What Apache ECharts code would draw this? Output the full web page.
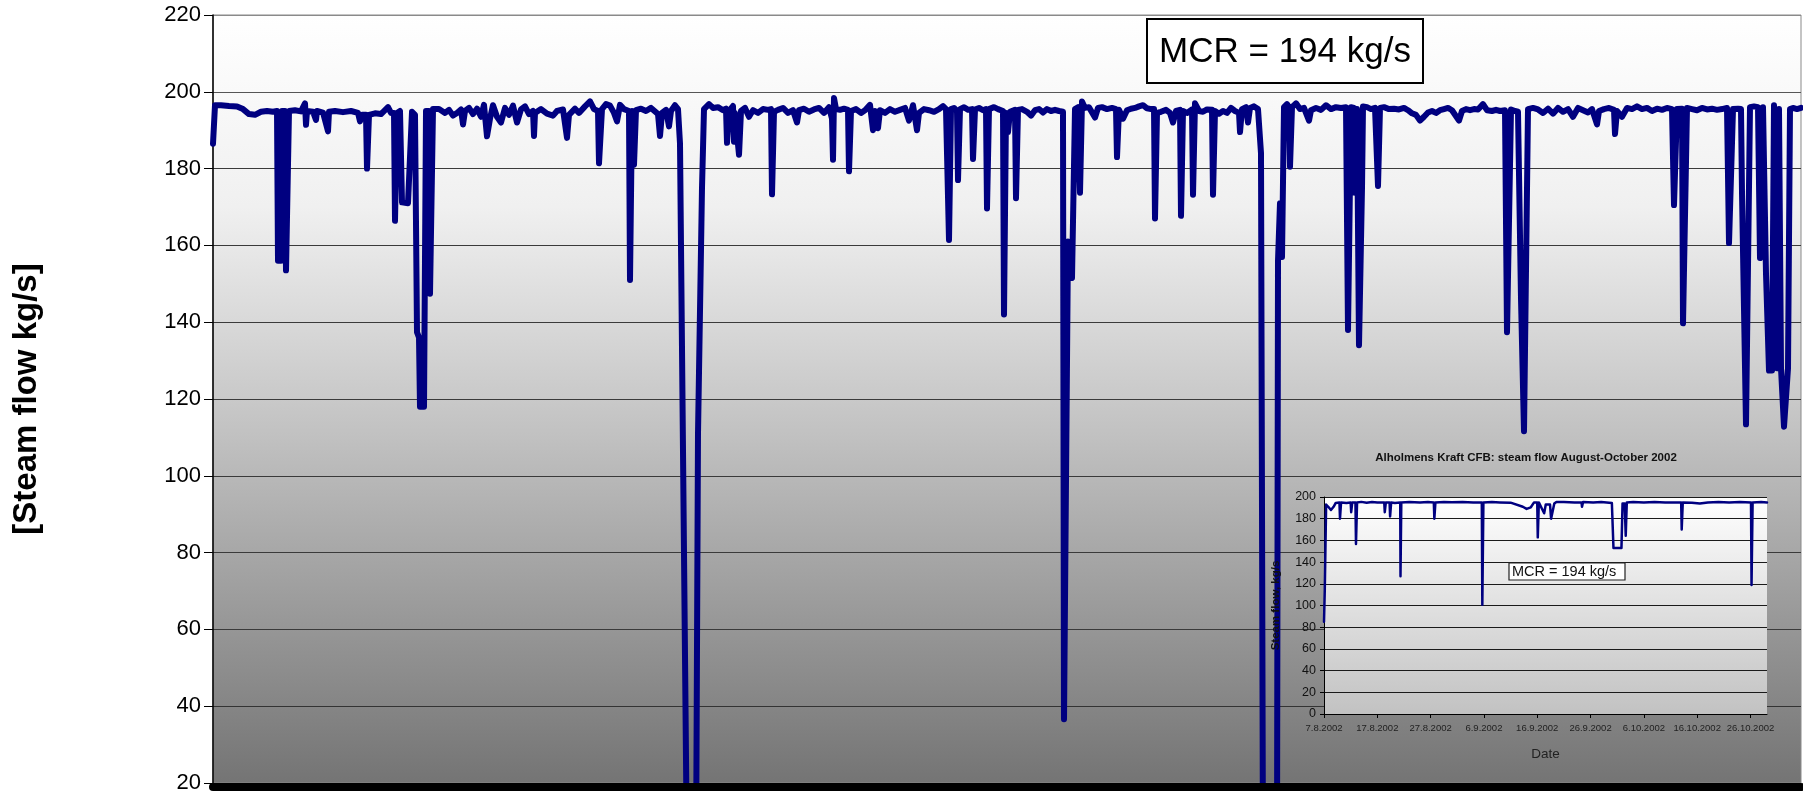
<!DOCTYPE html>
<html>
<head>
<meta charset="utf-8">
<script src="https://cdn.jsdelivr.net/npm/echarts@6/dist/echarts.min.js"></script>
<style>
html,body{margin:0;padding:0;background:#fff;}
#chart{width:1803px;height:795px;}
</style>
</head>
<body>
<div id="chart"></div>
<script>
// ---- Main chart data (time in hours from start of record, steam flow kg/s) ----
const mainHours = [
0,2,8,16,24,30,36,42,48,54,60,64,65,68,69,72,73,75,76,82,88,92,93,94,100,103,104,110,115,116,122,130,138,145,147,149,153,154,155,156,162,168,175,178,181,182,183,184,187,189,195,197,199,202,204,206,207,211,213,216,217,218,220,226,232,236,240,244,248,250,252,256,260,264,268,271,274,277,280,284,288,292,296,300,304,308,312,316,320,321,322,328,334,340,344,350,354,356,362,366,372,377,381,385,386,387,
389,393,397,401,404,407,411,416,417,418,419,421,422,423,428,433,438,445,447,449,453,456,458,462,465,467,469,474,483,485,489,491,496,500,505,510,513,514,515,516,520,521,522,526,527,528,532,536,540,545,550,555,558,559,560,561,565,570,575,580,584,586,591,596,601,606,611,616,619,620,621,623,627,631,635,636,637,638,643,648,652,657,660,662,665,667,672,677,682,687,692,696,700,704,706,711,716,721,726,730,733,735,736,737,738,741,744,745,746,747,751,755,759,760,761,762,766,770,773,774,775,776,781,785,
787,790,791,792,793,795,797,802,803,804,805,809,814,818,822,826,830,834,838,842,846,850,851,853,855,856,859,860,862,865,867,868,869,872,876,882,885,889,894,899,903,904,905,906,910,914,918,922,926,930,934,938,941,942,943,944,948,953,957,960,963,967,968,969,970,974,979,980,981,982,986,990,994,999,1000,1001,1002,1006,1010,1014,1018,1022,1026,1027,1029,1033,1035,1037,1041,1045,1048,1050,1064,1065,1067,1069,1071,1074,1076,1077,1078,1079,1083,1087,1091,1096,1098,1103,1108,1113,1118,1123,1128,1133,1135,1136,1138,1141,1142,1144,1146,1147,1149,1150,1154,1158,1162,1165,1166,1167,1171,1176,1181,1186,
1187,1191,1195,1199,1203,1207,1211,1215,1219,1223,1227,1231,1235,1239,1246,1249,1253,1257,1261,1265,1270,1274,1279,1283,1287,1292,1294,1296,1298,1302,1305,1307,1308,1311,1313,1315,1320,1325,1330,1335,1340,1345,1350,1355,1360,1365,1370,1375,1379,1384,1386,1391,1396,1401,1402,1403,1404,1409,1414,1419,1424,1429,1434,1439,1444,1449,1454,1459,1461,1462,1464,1469,1470,1472,1474,1479,1484,1489,1494,1499,1504,1509,1514,1516,1518,1520,1525,1528,1529,1531,1533,1535,1537,1541,1545,1547,1549,1550,1552,1553,1556,1559,1561,1563,1564,1566,1568,1571,1573,1575,1577,1580,1584,1588
];
const mainFlow = [
186.5,196.5,196.5,196.3,196.2,195.5,194.2,194.0,194.8,195.0,194.8,195.0,156,156,195,195,153.5,153.5,195,195.2,194.9,197,191.4,195,194.8,192.7,195,194.6,189.7,194.8,195,194.7,195,194.5,192.3,194,194,180,180,194,194.4,194.2,196,194.5,194.5,166.4,166.4,194.5,195,171.2,171,171,194.8,194,137.4,136,118,118,195,195,147.4,147.4,195.5,195.5,194.5,195.3,193.8,194.5,195.4,191.5,195,195.8,194.2,195.6,193.5,196.6,188.4,193,196.5,193.5,192,195.8,194,196.4,192,195.4,196.2,194.2,195,188.5,194.5,195.5,194.3,193.8,195,195.4,188,194,195.6,194.5,196.2,197.5,195.5,195,181.4,181.4,
195.5,196.8,196.4,194.5,192.3,196.6,195.5,195,151,151,195,181,181,195.2,195.6,195,195.8,194.2,188.5,194.5,195.3,191,195,196.5,195.5,186.5,186,0,0,111,175,195.5,196.8,195.8,196,195.2,195.6,186.7,187,195,196.3,187,194.5,183.6,183.6,195,195.8,193.5,195.2,194.5,195.5,195.3,195.5,173.3,173.3,194.8,195.3,195.8,194.5,195.2,192,195.2,195.6,194.8,195.4,195.8,194.5,196,193,182.3,198.4,195.5,195.3,195.6,195.3,179.3,179.3,195,195.5,194.5,195.2,196.6,190,195,190.5,195.2,194.5,195.5,194.8,195.3,195.8,192.5,196.5,190,194.5,195.5,195.2,194.8,195.5,196.3,195.5,195,161.4,161.4,195.5,195.8,195,177,177,195.5,196,195.3,195.5,182.5,182.5,195.4,195.8,195.2,195.5,169.6,169.6,195.5,196,195.5,
195.5,195,142,142,194.5,189.5,194.8,195.3,172.3,172.3,195.3,195.5,194.8,193.8,195.2,195.5,194.6,195.5,195,195.3,195,194.8,36.6,36.6,161,160,151.5,151.5,195.5,196,173.7,173.7,197.5,195.8,196,193.3,195.8,196,195.5,195.8,195.5,183,183,195.3,193,195.2,195.6,195.8,196.2,196.5,195.7,195.5,195.5,167,167,194.5,194.8,195.3,194.5,192,195,195.3,167.7,167.7,195,194.5,195.4,173.2,173.2,197,195,194.8,195.4,195.3,173.2,173.2,195,194.3,195,194.5,195.8,195,194.5,189.5,195.5,196,192,195.8,196.2,195.5,184,0,0,156,171,157,196,196.8,196,180.5,180.5,196,197,195.5,195.8,192.5,195.2,195.8,195.3,196.5,195.5,196,195.8,196,138,138,196,195.8,173.7,195.5,134,134,175,196.2,196,195.5,195.8,175.5,175.5,195.8,196,195.5,195.6,195.4,
195.6,195.8,195.2,194.4,194,192.5,193.5,194.6,195,194.5,195.2,195.5,195.8,195.2,192.5,195,195.5,195.2,195.5,195.4,196.8,195.2,195,195.3,195,195.2,137.4,137.4,195.4,195,194.8,195,146.2,111.6,111.6,195.5,195.8,195.4,194.5,195.6,194.3,195.8,194.8,195.5,193.5,195.8,195.2,194.6,195.5,191.5,195,195.5,195.8,195.3,189,189,195,193.5,195.8,195.5,196.2,195.5,195.8,195,195.6,195.3,195.8,195.5,170.5,170.5,195.5,195.6,139.7,139.7,195.8,195.5,195.2,195.8,195.4,195.6,195.3,195.5,195.8,160.6,160.6,195.5,195.6,195.5,173.7,173.7,113.4,113.4,196,196.2,196,156.7,156.7,196,196.3,152.6,127.4,127.4,196.5,196,128,195.5,128,112.8,112.8,128,195.5,195.8,195.5,195.8
];
const mainYTicks = {min: 20, max: 220, step: 20};

// ---- Inset chart data (days after 7.8.2002, steam flow kg/s) ----
const insetDays = [0,0.15,0.4,0.8,1.3,1.8,2.2,2.9,3.0,3.2,4.2,5.0,5.1,5.3,5.9,6.0,6.2,7.0,8.0,9.0,10.0,11.3,11.4,11.6,12.3,12.4,12.6,13.3,14.3,14.35,14.5,16,18,19.5,20.6,20.7,20.9,22.5,24,26,28,29.6,29.7,29.9,31.5,33,35,37.3,38,38.8,39.4,40.0,40.1,40.3,41,41.3,41.6,42.4,42.6,42.8,43.2,43.6,45,47,48.3,48.4,48.6,50.5,52,54.0,54.3,55.8,56.0,56.4,56.6,56.8,58,60,62,64,67.0,67.1,67.3,69,70.5,72,74,76,78,80.1,80.2,80.4,82,83.1];
const insetFlow = [85,115,193,191,188,191,194.5,195,180,195,194.5,195,186,195,195,156.6,195,195.5,194.8,195.3,195,195,186,195,195,182,195,194.5,195,127,195,195.5,195,195.3,195,180,195,195.5,195.2,195.5,195,195,100.8,195,195.3,195,194.8,191,189,190.5,195,195,162.8,195,188,185,193,193,180,179,194,195.5,195.3,195,195,191,195.5,195,195.3,194.5,153,153,194,194,164.3,195,195.3,195,195.3,195,195,170,195,194.8,194,195,195.3,195,195.3,195,118.8,195,195.3,195];
const insetDateTicks = [0,10,20,30,40,50,60,70,80];
const insetDateLabels = ['7.8.2002','17.8.2002','27.8.2002','6.9.2002','16.9.2002','26.9.2002','6.10.2002','16.10.2002','26.10.2002'];

const mainTitleY = '[Steam flow kg/s]';
const insetTitle = 'Alholmens Kraft CFB: steam flow August-October 2002';
const mcrText = 'MCR = 194 kg/s';

const FONT = '"Liberation Sans", Arial, sans-serif';
const chart = echarts.init(document.getElementById('chart'), null, {renderer: 'canvas'});

const mainData = mainHours.map((h, i) => [h, mainFlow[i]]);
const insetData = insetDays.map((d, i) => [d, insetFlow[i]]);

const mainBg = new echarts.graphic.LinearGradient(0, 0, 0, 1, [
  {offset: 0, color: '#ffffff'},
  {offset: 0.25, color: '#f0f0f0'},
  {offset: 0.5, color: '#c9c9c9'},
  {offset: 1, color: '#747474'}
]);
const insetBg = new echarts.graphic.LinearGradient(0, 0, 0, 1, [
  {offset: 0, color: '#ffffff'},
  {offset: 1, color: '#c2c2c2'}
]);

const option = {
  animation: false,
  textStyle: {fontFamily: FONT},
  grid: [
    {left: 213, top: 15, width: 1588, height: 768, show: true, backgroundColor: mainBg, borderColor: '#8a8a8a', borderWidth: 1, z: 0},
    {left: 1324, top: 497, width: 443, height: 217, show: true, backgroundColor: insetBg, borderWidth: 0, z: 3}
  ],
  xAxis: [
    {type: 'value', gridIndex: 0, min: 0, max: 1588, offset: 4, z: 3,
     axisLine: {show: true, onZero: false, lineStyle: {color: '#000', width: 8}},
     axisTick: {show: false}, axisLabel: {show: false}, splitLine: {show: false}},
    {type: 'value', gridIndex: 1, min: 0, max: 83.1, z: 4,
     axisLine: {show: true, onZero: false, lineStyle: {color: '#000', width: 1}},
     axisTick: {show: true, customValues: insetDateTicks, length: 4, lineStyle: {color: '#000'}},
     axisLabel: {show: true, customValues: insetDateTicks, margin: 9, fontSize: 9.5, color: '#222', fontFamily: FONT,
       formatter: v => insetDateLabels[insetDateTicks.indexOf(v)] || ''},
     splitLine: {show: false},
     name: 'Date', nameLocation: 'middle', nameGap: 33,
     nameTextStyle: {fontSize: 13.5, color: '#222', fontFamily: FONT}}
  ],
  yAxis: [
    {type: 'value', gridIndex: 0, min: mainYTicks.min, max: mainYTicks.max, interval: mainYTicks.step, z: 1,
     axisLine: {show: true, lineStyle: {color: '#000', width: 1.5}},
     axisTick: {show: true, length: 9, lineStyle: {color: '#000', width: 1}},
     axisLabel: {fontSize: 22, color: '#000', margin: 12, fontFamily: FONT},
     splitLine: {show: true, lineStyle: {color: ['#000','#333','#3a3a3a','#3a3a3a','#3a3a3a','#3a3a3a','#3a3a3a','#3a3a3a','#3a3a3a','#555','#8a8a8a'], width: 1}},
     name: mainTitleY, nameLocation: 'middle', nameGap: 170,
     nameTextStyle: {fontSize: 33, fontWeight: 'bold', color: '#000', fontFamily: FONT}},
    {type: 'value', gridIndex: 1, min: 0, max: 200, interval: 20, z: 4,
     axisLine: {show: true, lineStyle: {color: '#000', width: 1}},
     axisTick: {show: true, length: 4, lineStyle: {color: '#000'}},
     axisLabel: {fontSize: 12.5, color: '#111', margin: 8, fontFamily: FONT},
     splitLine: {show: true, lineStyle: {color: '#1a1a1a', width: 1}},
     name: 'Steam flow, kg/s', nameLocation: 'middle', nameGap: 42,
     nameTextStyle: {fontSize: 11.5, fontWeight: 'bold', color: '#111', fontFamily: FONT}}
  ],
  series: [
    {type: 'line', xAxisIndex: 0, yAxisIndex: 0, data: mainData, showSymbol: false, symbol: 'none', z: 2,
     clip: true, lineStyle: {color: '#000080', width: 6, cap: 'round', join: 'round'}},
    {type: 'line', xAxisIndex: 1, yAxisIndex: 1, data: insetData, showSymbol: false, symbol: 'none', z: 5,
     clip: true, lineStyle: {color: '#000080', width: 2.5, cap: 'round', join: 'round'}}
  ],
  graphic: [
    {type: 'rect', z: 20, shape: {x: 1147, y: 19, width: 276, height: 64},
     style: {fill: '#fff', stroke: '#000', lineWidth: 2}},
    {type: 'text', z: 21, x: 1285, y: 52,
     style: {text: mcrText, font: '35px ' + FONT, fill: '#000', textAlign: 'center', textVerticalAlign: 'middle'}},
    {type: 'text', z: 21, x: 1526, y: 458,
     style: {text: insetTitle, font: 'bold 11.5px ' + FONT, fill: '#111', textAlign: 'center', textVerticalAlign: 'middle'}},
    {type: 'rect', z: 20, shape: {x: 1509, y: 563, width: 116, height: 17},
     style: {fill: '#fff', stroke: '#222', lineWidth: 1.2}},
    {type: 'text', z: 21, x: 1512, y: 572,
     style: {text: mcrText, font: '14.5px ' + FONT, fill: '#111', textAlign: 'left', textVerticalAlign: 'middle'}}
  ]
};
chart.setOption(option);
</script>
</body>
</html>
